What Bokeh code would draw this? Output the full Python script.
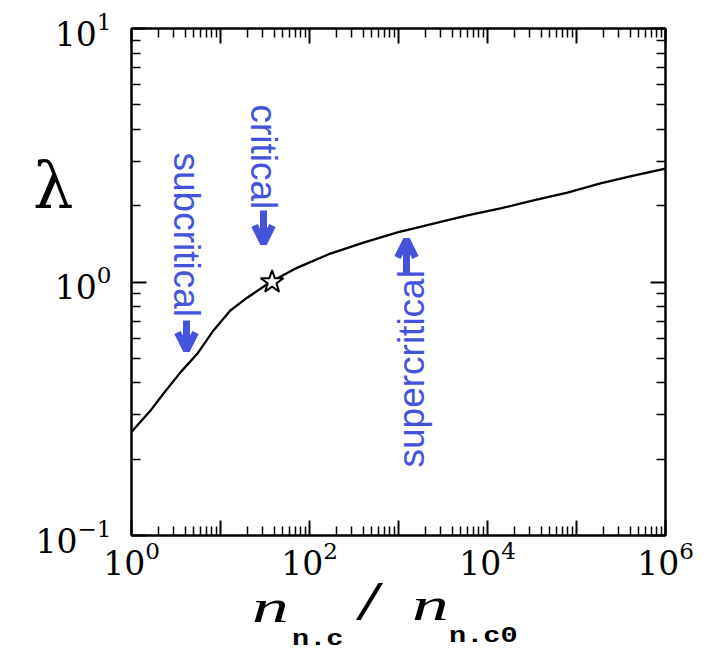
import math
from bokeh.plotting import figure
from bokeh.models import (LogAxis, Label, Arrow, OpenHead, Range1d, FixedTicker, Div)
from bokeh.embed import file_html
from bokeh.resources import INLINE

# ---- data ----
ratio_x = [1.0, 1.635, 2.29, 3.55, 5.51, 8.34, 12.9, 20.1, 36.5, 73.3, 172.0, 404.0, 975.0,
           2470.0, 5960.0, 14000.0, 32900.0, 79200.0, 186000.0, 437000.0, 1.0e6]
lambda_y = [0.256, 0.311, 0.363, 0.44, 0.522, 0.644, 0.772, 0.869, 1.0, 1.14, 1.295, 1.43, 1.57,
            1.70, 1.83, 1.95, 2.10, 2.25, 2.45, 2.63, 2.80]
star_x = [38.0]
star_y = [1.0]
x_major = [1, 10, 100, 1e3, 1e4, 1e5, 1e6]
x_unlabeled = {10: " ", 1000: " ", 100000: " "}
x_minor = [m * 10 ** d for d in range(6) for m in range(2, 10)]
y_major = [0.1, 1, 10]
y_minor = [m * 10 ** d for d in (-1, 0) for m in range(2, 10)]

BLUE = "#4353DB"

# image pixel -> data helpers (frame: x 131..665, y 28..535 in the image)
def dx(px):
    return 10 ** ((px - 131) * 6.0 / 534.0)

def dy(py):
    return 10 ** (-1 + 2.0 * (535 - py) / 507.0)

p = figure(x_axis_type="log", y_axis_type="log",
           x_range=Range1d(1, 1e6), y_range=Range1d(0.1, 10),
           frame_width=534, frame_height=507,
           min_border_left=131, min_border_right=58, min_border_top=28, min_border_bottom=118,
           output_backend="svg", toolbar_location=None,
           background_fill_color="white", border_fill_color="white")
p.grid.visible = False
p.outline_line_color = "black"
p.outline_line_width = 2

tick_font = "DejaVu Serif"

def style(ax, labels=True):
    ax.axis_line_width = 2
    ax.axis_line_color = "black"
    ax.major_tick_in = 15
    ax.major_tick_out = 0
    ax.minor_tick_in = 9
    ax.minor_tick_out = 0
    ax.major_tick_line_width = 2
    ax.minor_tick_line_width = 1.5
    ax.major_tick_line_color = "black"
    ax.minor_tick_line_color = "black"
    ax.major_label_text_font = tick_font
    if labels:
        ax.major_label_text_font_size = "33px"
        ax.major_label_text_color = "black"
    else:
        ax.major_label_text_font_size = "4px"
        ax.major_label_text_color = None

xa = p.xaxis[0]
xa.ticker = FixedTicker(ticks=x_major, minor_ticks=x_minor)
xa.major_label_overrides = x_unlabeled
style(xa)
xa.major_label_standoff = 5

ya = p.yaxis[0]
ya.ticker = FixedTicker(ticks=y_major, minor_ticks=y_minor)
style(ya)
ya.major_label_standoff = 20

top = LogAxis(ticker=FixedTicker(ticks=x_major, minor_ticks=x_minor))
style(top, labels=False)
p.add_layout(top, "above")
right = LogAxis(ticker=FixedTicker(ticks=y_major, minor_ticks=y_minor))
style(right, labels=False)
p.add_layout(right, "right")

# curve and star
p.line(ratio_x, lambda_y, line_color="black", line_width=2.3)
p.scatter(star_x, star_y, marker="star", size=24, fill_color="white",
          line_color="black", line_width=2)

# blue annotations
p.add_layout(Label(x=dx(263), y=dy(104), text="critical", angle=-math.pi / 2,
                   text_align="left", text_baseline="middle", text_color=BLUE,
                   text_font="Liberation Sans", text_font_size="37px"))
p.add_layout(Label(x=dx(186), y=dy(152), text="subcritical", angle=-math.pi / 2,
                   text_align="left", text_baseline="middle", text_color=BLUE,
                   text_font="Liberation Sans", text_font_size="37px"))
p.add_layout(Label(x=dx(411), y=dy(467), text="supercritical", angle=math.pi / 2,
                   text_align="left", text_baseline="middle", text_color=BLUE,
                   text_font="Liberation Sans", text_font_size="37px"))

def arrow(x, y0, y1):
    p.add_layout(Arrow(x_start=dx(x), y_start=dy(y0), x_end=dx(x), y_end=dy(y1),
                       line_color=BLUE, line_width=7,
                       end=OpenHead(size=18, line_color=BLUE, line_width=7)))

arrow(263, 210, 243)
arrow(186, 320, 350)
arrow(406, 273, 239)

# axis titles as HTML text, placed absolutely on the page
def html_div(left, top, s, size, font="DejaVu Serif", italic=False, bold=False, sx=1.0):
    css = ("font-family:'%s';font-size:%dpx;line-height:%dpx;font-style:%s;font-weight:%s;"
           "color:black;white-space:nowrap;display:inline-block;transform:scaleX(%.2f);"
           "transform-origin:left top;" % (font, size, size, "italic" if italic else "normal",
                                            "bold" if bold else "normal", sx))
    return Div(text='<span style="%s">%s</span>' % (css, s), width=int(size * 2), height=size,
               styles={"position": "absolute", "left": "%dpx" % left, "top": "%dpx" % top,
                       "margin": "0", "padding": "0"})

divs = [
    html_div(33, 153, "λ", 64),
    html_div(252, 584, "n", 46, font="Liberation Serif", italic=True, sx=1.6),
    html_div(292, 629, "n.c", 22, font="Liberation Mono", bold=True, sx=1.3),
    html_div(356, 574, "/", 54, font="Liberation Serif", sx=1.8),
    html_div(412, 582, "n", 46, font="Liberation Serif", italic=True, sx=1.6),
    html_div(449, 626, "n.c0", 22, font="Liberation Mono", bold=True, sx=1.3),
]

open("out.html", "w").write(file_html([p] + divs, INLINE))
